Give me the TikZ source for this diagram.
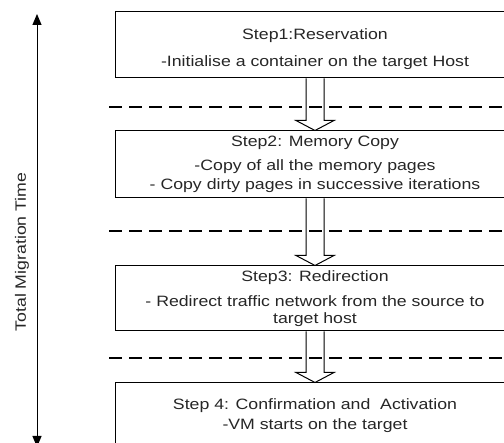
\documentclass[tikz,border=0pt]{standalone}
\usepackage{fontspec}
\setmainfont{Liberation Sans}[FakeStretch=1.18]
\usetikzlibrary{arrows.meta,calc}
\begin{document}
\begin{tikzpicture}[x=1pt,y=-1pt,
  stepbox/.style={draw, line width=1pt, minimum width=400pt, inner sep=0pt,
    align=center, font=\fontsize{15}{17}\selectfont, text=black!85},
  sepline/.style={line width=2.6pt, dash pattern=on 13pt off 7pt},
  hollow/.style={draw, line width=1pt, line join=miter},
  timearrow/.style={line width=1pt, {Triangle[length=11pt,width=9pt]}-{Triangle[length=11pt,width=9pt]}},
  axislabel/.style={rotate=90, font=\fontsize{15}{17}\selectfont, text=black!85}
]
\useasboundingbox (0,0) rectangle (504,443);

\newcommand\hollowarr[2]{%
  \draw[hollow] ($(#1.south -| #2.north)+(-9,0)$) -- ($(#2.north)+(-9,-10)$)
    -- ($(#2.north)+(-19,-10)$) -- (#2.north) -- ($(#2.north)+(19,-10)$)
    -- ($(#2.north)+(9,-10)$) -- ($(#1.south -| #2.north)+(9,0)$);}

\node[stepbox, minimum height=66pt] (b1) at (315,45)
  {\rule{0pt}{20pt}Step1:Reservation\\[10pt]-Initialise a container on the target Host};
\node[stepbox, minimum height=67pt] (b2) at (315,164.5)
  {Step2: Memory Copy\\[7pt]-Copy of all the memory pages\\[2pt]- Copy dirty pages in successive iterations};
\node[stepbox, minimum height=65pt] (b3) at (315,298.5)
  {Step3: Redirection\\[8pt]- Redirect traffic network from the source to\\[0pt]target host};
\node[stepbox, minimum height=65pt] (b4) at (315,415.5)
  {Step 4: Confirmation and\ \ Activation\\[3pt]-VM starts on the target};

\hollowarr{b1}{b2}
\hollowarr{b2}{b3}
\hollowarr{b3}{b4}

\draw[sepline] (109,107) -- (520,107);
\draw[sepline] (109,231) -- (520,231);
\draw[sepline] (109,358) -- (520,358);

\coordinate (ttop) at (37,14);
\coordinate (tbot) at (37,447);
\draw[timearrow] (tbot) -- (ttop);
\node[axislabel] (tl) at (22,252) {Total Migration Time};
\end{tikzpicture}
\end{document}
